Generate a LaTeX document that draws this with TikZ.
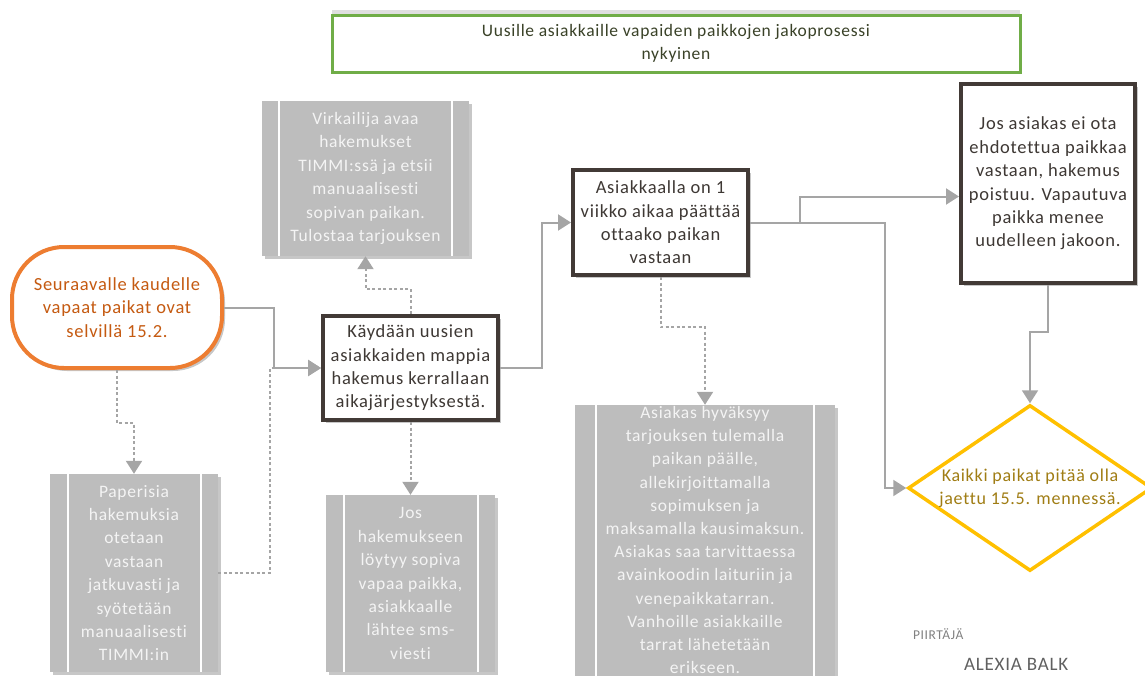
\documentclass[tikz,border=0pt]{standalone}
\usepackage{fontspec}
\setmainfont{Carlito}[LetterSpace=4, Ligatures=CommonOff]
\usetikzlibrary{arrows.meta,shapes.geometric,shadows,calc}

\definecolor{connGray}{RGB}{165,165,165}
\definecolor{boxGray}{RGB}{189,189,189}
\definecolor{paleText}{RGB}{244,244,244}
\definecolor{darkFrame}{RGB}{66,58,54}
\definecolor{darkText}{RGB}{62,56,52}
\definecolor{orangeLine}{RGB}{237,125,49}
\definecolor{orangeText}{RGB}{197,90,17}
\definecolor{greenLine}{RGB}{112,173,71}
\definecolor{titleText}{RGB}{58,66,40}
\definecolor{goldLine}{RGB}{255,192,0}
\definecolor{goldText}{RGB}{160,125,20}
\definecolor{roleGray}{RGB}{128,128,128}
\definecolor{nameGray}{RGB}{96,96,96}

\tikzset{
  every node/.style={align=center, inner sep=0pt,
    font=\fontsize{18}{23.4}\selectfont},
  softshadow/.style={drop shadow={shadow xshift=3pt, shadow yshift=-3pt,
    fill=black, opacity=0.22}},
  graybox/.style={fill=boxGray, text=paleText, softshadow,
    font=\fontsize{17.5}{23.4}\selectfont,
    path picture={
      \draw[white, line width=2pt]
        ([xshift=#1]path picture bounding box.north west) --
        ([xshift=#1]path picture bounding box.south west)
        ([xshift=-#1]path picture bounding box.north east) --
        ([xshift=-#1]path picture bounding box.south east);}},
  graybox/.default=18pt,
  paletext/.style={text=paleText, font=\fontsize{17.5}{23.2}\selectfont},
  darkbox/.style={draw=darkFrame, line width=4pt, fill=white,
    text=darkText, softshadow, font=\fontsize{18.5}{23.4}\selectfont},
  conn/.style={draw=connGray, line width=2pt,
    -{Triangle[width=16pt,length=13pt]}},
  dashconn/.style={conn, dash pattern=on 3pt off 2.5pt},
}

\begin{document}
\begin{tikzpicture}[x=1pt, y=-1pt]
\useasboundingbox (0,0) rectangle (1145,675);

% title banner
\node[draw=greenLine, line width=3pt, fill=white, minimum width=688pt,
  minimum height=57pt, text=titleText,
  drop shadow={shadow xshift=0pt, shadow yshift=5pt, opacity=0.25},
  font=\fontsize{17.5}{23}\selectfont] (title) at (676,43.5)
  {Uusille asiakkaille vapaiden paikkojen jakoprosessi\\nykyinen};

% start
\node[draw=orangeLine, line width=4pt, rounded corners=52pt, fill=white,
  minimum width=210pt, minimum height=121pt, text=orangeText, softshadow,
  font=\fontsize{18.5}{23.4}\selectfont]
  (start) at (117,307.5)
  {Seuraavalle kaudelle\\vapaat paikat ovat\\selvillä 15.2.};

% grey side-process boxes
\node[graybox=17pt, minimum width=207pt, minimum height=155pt]
  (clerk) at (365.5,178.5)
  {Virkailija avaa\\hakemukset\\TIMMI:ssä ja etsii\\manuaalisesti\\sopivan paikan.\\Tulostaa tarjouksen};
\node[graybox=17.5pt, minimum width=168pt, minimum height=198pt]
  (paper) at (134,573)
  {Paperisia\\hakemuksia\\otetaan\\vastaan\\jatkuvasti ja\\syötetään\\manuaalisesti\\TIMMI:in};
\node[graybox=17.5pt, minimum width=169pt, minimum height=177pt]
  (sms) at (410.5,583.5)
  {Jos\\hakemukseen\\löytyy sopiva\\vapaa paikka,\\asiakkaalle\\lähtee sms-\\viesti};
\node[graybox=21pt, minimum width=260pt, minimum height=280pt]
  (accept) at (705,545) {};
\node[paletext] (accepttext) at (705,540)
  {Asiakas hyväksyy\\tarjouksen tulemalla\\paikan päälle,\\allekirjoittamalla\\sopimuksen ja\\maksamalla kausimaksun.\\Asiakas saa tarvittaessa\\avainkoodin laituriin ja\\venepaikkatarran.\\Vanhoille asiakkaille\\tarrat lähetetään\\erikseen.};

% main process boxes
\node[darkbox, minimum width=175pt, minimum height=104pt]
  (folder) at (410.5,368)
  {Käydään uusien\\asiakkaiden mappia\\hakemus kerrallaan\\aikajärjestyksestä.};
\node[darkbox, minimum width=175pt, minimum height=105pt]
  (week) at (660.5,222.5)
  {Asiakkaalla on 1\\viikko aikaa päättää\\ottaako paikan\\vastaan};
\node[darkbox, minimum width=174pt, minimum height=199pt]
  (decline) at (1048,183.5)
  {Jos asiakas ei ota\\ehdotettua paikkaa\\vastaan, hakemus\\poistuu. Vapautuva\\paikka menee\\uudelleen jakoon.};

% deadline
\node[diamond, draw=goldLine, line width=3.5pt, fill=white,
  minimum width=244pt, minimum height=166pt, aspect=1.47, text=goldText]
  (deadline) at (1030,488)
  {Kaikki paikat pitää olla\\jaettu 15.5. mennessä.};

% author
\node[anchor=west, text=roleGray, font=\fontsize{13.5}{15}\selectfont]
  (role) at (913,634) {PIIRTÄJÄ};
\node[anchor=west, text=nameGray, font=\fontsize{19}{21}\selectfont]
  (author) at (964,664) {ALEXIA BALK};

% connectors
\draw[dashconn] (paper.east) -| ($(folder.west)+(-51,0)$) -- (folder.west);
\draw[conn] (start.east) -- ++(50,0) |- (folder.west);
\draw[dashconn] (start.south) -- ++(0,53) -| (paper.north);
\draw[dashconn] (folder.north) -- ++(0,-25) -| (clerk.south);
\draw[dashconn] (folder.south) -- (sms.north);
\draw[conn] (folder.east) -- ++(42,0) |- (week.west);
\draw[dashconn] (week.south) -- ++(0,50) -| (accept.north);
\draw[conn] (week.east) -- ++(50,0) -- ++(0,-26) coordinate (upper)
  -- (upper -| decline.west);
\draw[conn] (week.east) -- ++(135,0) |- (deadline.west);
\draw[conn] (decline.south) -- ++(0,47) -| (deadline.north);
\end{tikzpicture}
\end{document}
